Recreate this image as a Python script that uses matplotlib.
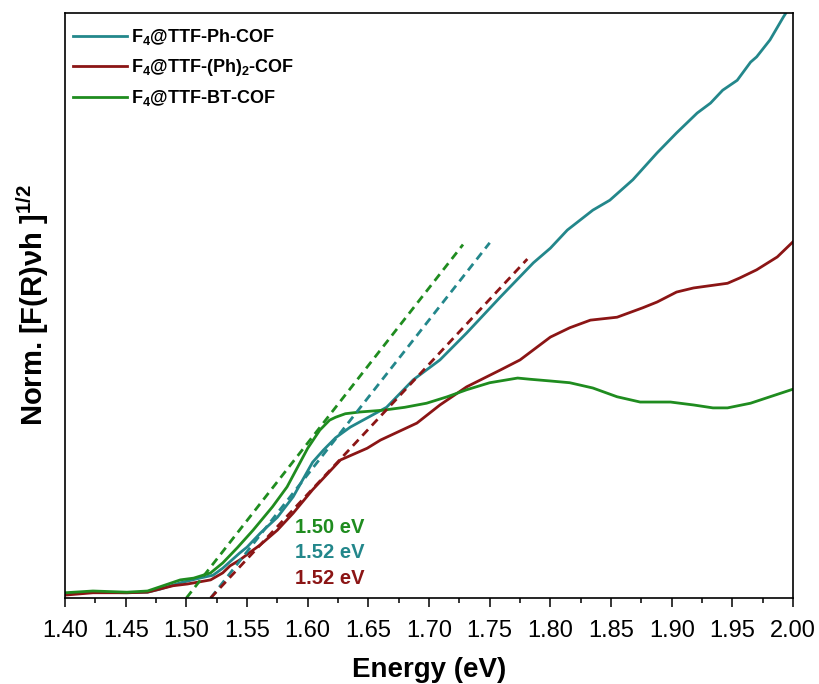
import numpy as np
import matplotlib.pyplot as plt
from matplotlib.ticker import MultipleLocator

plt.rcParams['font.family'] = ['Liberation Sans', 'DejaVu Sans']
plt.rcParams['mathtext.fontset'] = 'custom'
plt.rcParams['mathtext.rm'] = 'Liberation Sans'
plt.rcParams['mathtext.bf'] = 'Liberation Sans:bold'

# Tauc plot data, photon energy (eV) vs normalised [F(R)hv]^1/2
ph_E = [1.400, 1.423, 1.451, 1.468, 1.478, 1.495, 1.511, 1.522, 1.530, 1.544,
        1.550, 1.561, 1.575, 1.588, 1.604, 1.613, 1.623, 1.635, 1.665, 1.687,
        1.709, 1.731, 1.759, 1.786, 1.800, 1.814, 1.835, 1.849, 1.868, 1.888,
        1.904, 1.921, 1.932, 1.942, 1.954, 1.965, 1.970, 1.981, 1.992, 2.000]
ph_y = [0.007, 0.010, 0.009, 0.010, 0.015, 0.026, 0.034, 0.039, 0.051, 0.077,
        0.087, 0.111, 0.138, 0.173, 0.232, 0.253, 0.274, 0.292, 0.326, 0.373,
        0.407, 0.453, 0.515, 0.573, 0.598, 0.629, 0.663, 0.680, 0.715, 0.761,
        0.795, 0.829, 0.846, 0.868, 0.885, 0.916, 0.925, 0.954, 0.993, 1.019]

ph2_E = [1.400, 1.423, 1.451, 1.468, 1.489, 1.501, 1.520, 1.530, 1.536, 1.544,
         1.555, 1.561, 1.575, 1.588, 1.604, 1.627, 1.649, 1.660, 1.690, 1.709,
         1.731, 1.759, 1.775, 1.800, 1.816, 1.833, 1.855, 1.876, 1.888, 1.904,
         1.918, 1.946, 1.956, 1.970, 1.987, 2.000]
ph2_y = [0.005, 0.009, 0.009, 0.010, 0.021, 0.024, 0.031, 0.043, 0.055, 0.065,
         0.082, 0.091, 0.116, 0.145, 0.185, 0.236, 0.256, 0.270, 0.299, 0.330,
         0.361, 0.390, 0.407, 0.446, 0.462, 0.475, 0.480, 0.496, 0.506, 0.523,
         0.530, 0.538, 0.547, 0.561, 0.583, 0.609]

bt_E = [1.400, 1.423, 1.451, 1.468, 1.478, 1.495, 1.506, 1.520, 1.530, 1.542,
        1.555, 1.571, 1.583, 1.600, 1.610, 1.618, 1.623, 1.631, 1.643, 1.662,
        1.680, 1.698, 1.715, 1.731, 1.750, 1.773, 1.783, 1.800, 1.816, 1.835,
        1.855, 1.874, 1.899, 1.918, 1.934, 1.946, 1.965, 1.981, 2.000]
bt_y = [0.009, 0.012, 0.010, 0.012, 0.019, 0.031, 0.034, 0.043, 0.060, 0.086,
        0.116, 0.156, 0.190, 0.256, 0.287, 0.304, 0.309, 0.315, 0.318, 0.321,
        0.326, 0.333, 0.344, 0.356, 0.368, 0.376, 0.374, 0.371, 0.368, 0.359,
        0.344, 0.335, 0.335, 0.330, 0.325, 0.325, 0.333, 0.344, 0.357]

names = [r'F$_\mathbf{4}$@TTF-Ph-COF',
         r'F$_\mathbf{4}$@TTF-(Ph)$_\mathbf{2}$-COF',
         r'F$_\mathbf{4}$@TTF-BT-COF']
colors = ['#23878b', '#8b1515', '#1f8c1f']

# linear fits of the absorption edge: band gap, slope, last energy drawn
gaps = [1.52, 1.52, 1.50]
slopes = [2.64, 2.22, 2.65]
fit_end = [1.750, 1.781, 1.728]

fig = plt.figure(figsize=(8.19, 6.84), dpi=100)
ax = fig.add_axes([0.0794, 0.1257, 0.8889, 0.8553])

curves = [(ph_E, ph_y), (ph2_E, ph2_y), (bt_E, bt_y)]
for (E, y), name, c in zip(curves, names, colors):
    ax.plot(E, y, color=c, lw=2.0, label=name)

for eg, k, xe, c in zip(gaps, slopes, fit_end, colors):
    xs = np.array([eg, xe])
    ax.plot(xs, k * (xs - eg), color=c, lw=2.0, ls=(0, (3, 2)))

# band gap values, listed green / teal / red
for i, j in enumerate([2, 0, 1]):
    ax.text(0.316, 0.121 - i * 0.044, f'{gaps[j]:.2f} eV', color=colors[j],
            fontsize=14.5, fontweight='bold', transform=ax.transAxes,
            va='center', ha='left')

ax.set_xlim(1.40, 2.00)
ax.set_ylim(0, 1)
ax.xaxis.set_major_locator(MultipleLocator(0.05))
ax.xaxis.set_minor_locator(MultipleLocator(0.025))
ax.xaxis.set_major_formatter('{x:.2f}')
ax.tick_params(axis='x', which='major', direction='out', length=6.5, width=1.1,
               labelsize=17, pad=9)
ax.tick_params(axis='x', which='minor', direction='out', length=3.8, width=1.1)
ax.set_yticks([])
for s in ax.spines.values():
    s.set_linewidth(1.2)

ax.set_xlabel('Energy (eV)', fontsize=20, fontweight='bold', labelpad=11)
ax.set_ylabel(r'Norm. [F(R)νh ]$^{\mathbf{1/2}}$', fontsize=21, fontweight='bold',
              labelpad=10)

leg = ax.legend(loc='upper left', bbox_to_anchor=(-0.009, 1.0), frameon=False,
                prop={'size': 13, 'weight': 'bold'},
                handlelength=3.0, handletextpad=0.2, labelspacing=0.55,
                borderaxespad=0.5, borderpad=0.3)

fig.savefig('out.png', dpi=100)
